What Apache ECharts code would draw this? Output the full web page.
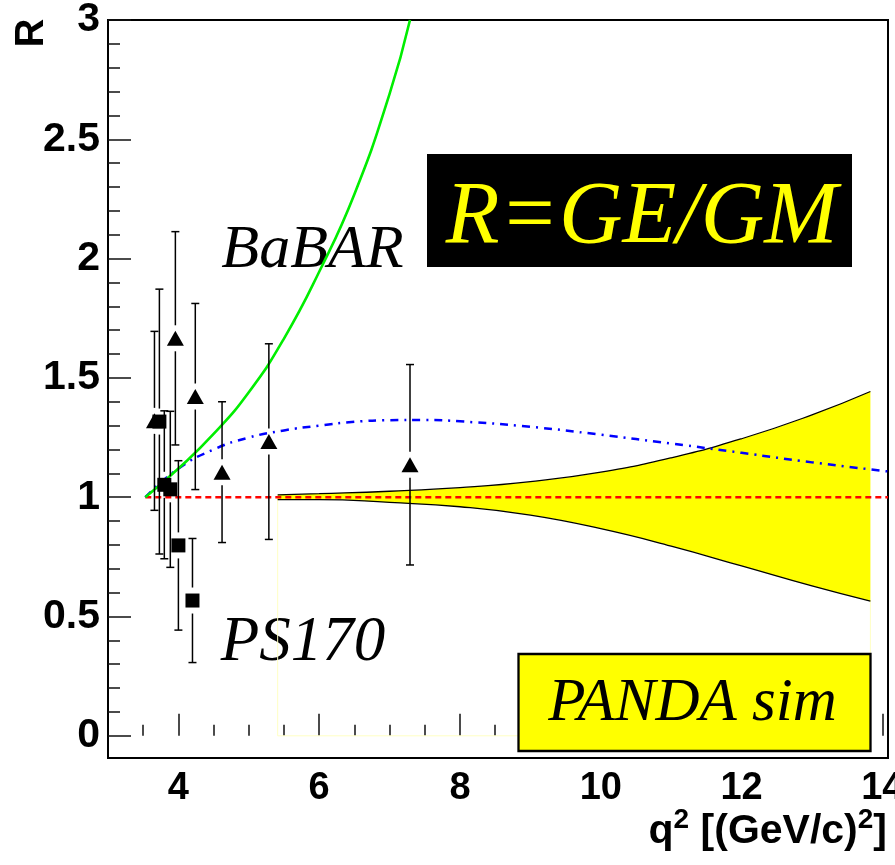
<!DOCTYPE html>
<html>
<head>
<meta charset="utf-8">
<script src="https://cdn.jsdelivr.net/npm/echarts@6/dist/echarts.min.js"></script>
<style>
  html, body { margin: 0; padding: 0; background: #ffffff; }
  #main { width: 895px; height: 865px; }
</style>
</head>
<body>
<div id="main"></div>
<script>
// PS170 measurements (squares): q^2, R and symmetric error
const ps170X   = [3.73, 3.80, 3.885, 4.00, 4.20];
const ps170R   = [1.317, 1.052, 1.033, 0.798, 0.567];
const ps170Err = [0.555, 0.31, 0.327, 0.355, 0.26];

// BaBAR measurements (triangles)
const babarX   = [3.66, 3.957, 4.24, 4.62, 5.285, 7.29];
const babarR   = [1.32, 1.666, 1.422, 1.105, 1.233, 1.136];
const babarErr = [0.375, 0.447, 0.39, 0.295, 0.41, 0.42];

// BaBAR fit (solid green)
const babarFitX = [3.53, 4.0, 4.5, 5.0, 5.5, 6.0, 6.5, 7.0, 7.29];
const babarFitY = [1.0, 1.12, 1.265, 1.44, 1.665, 1.945, 2.27, 2.69, 3.0];

// Model curve (blue dash-dot)
const modelX = [3.53, 4.0, 4.5, 5.0, 5.5, 6.0, 6.5, 7.0, 7.5, 8.0, 9.0, 10.0, 11.0, 12.0, 13.0, 14.08];
const modelY = [1.0, 1.12, 1.2, 1.25, 1.28, 1.30, 1.316, 1.323, 1.324, 1.318, 1.295, 1.262, 1.225, 1.186, 1.146, 1.108];

// R = 1 reference (red dashed)
const unityX = [3.53, 14.08];
const unityY = [1.0, 1.0];

// PANDA simulated precision band, filled around R = 1
const bandX    = [5.41, 6.0, 7.0, 8.0, 9.0, 10.0, 11.0, 12.0, 13.0, 13.83];
const bandHigh = [1.01, 1.015, 1.025, 1.04, 1.065, 1.105, 1.165, 1.245, 1.345, 1.443];
const bandLow  = [0.99, 0.99, 0.978, 0.96, 0.925, 0.868, 0.795, 0.712, 0.628, 0.564];
const bandMidY = [1.0, 1.0];

// faint outline of the band histogram frame
const frameX = [5.41, 5.41, 13.83, 13.83];
const frameY = [1.0, 0.0, 0.0, 0.564];

// axes
const X_MIN = 3, X_MAX = 14.08, Y_MIN = -0.093, Y_MAX = 3;
const xMajor = [4, 6, 8, 10, 12, 14];
const xMinor = [3.5, 4.5, 5, 5.5, 6.5, 7, 7.5, 8.5, 9, 9.5, 10.5, 11, 11.5, 12.5, 13, 13.5];
const yMajor = [0, 0.5, 1, 1.5, 2, 2.5, 3];
const yMinor = [];
for (let k = 1; k < 30; k++) { if (k % 5 !== 0) yMinor.push(+(k / 10).toFixed(1)); }

const pairs = (xs, ys) => xs.map((x, i) => [x, ys[i]]);
const errRows = (xs, ys, es) => xs.map((x, i) => [x, ys[i], ys[i] - es[i], ys[i] + es[i]]);

function errorBar(params, api) {
  const x = api.value(0), y = api.value(1), lo = api.value(2), hi = api.value(3);
  const pc = api.coord([x, y]);
  const pl = api.coord([x, lo]);
  const ph = api.coord([x, hi]);
  const gap = 13, cap = 4;
  const style = { stroke: '#000', lineWidth: 1.5 };
  return {
    type: 'group',
    children: [
      { type: 'line', shape: { x1: ph[0], y1: ph[1], x2: ph[0], y2: pc[1] - gap }, style },
      { type: 'line', shape: { x1: pl[0], y1: pc[1] + gap, x2: pl[0], y2: pl[1] }, style },
      { type: 'line', shape: { x1: ph[0] - cap, y1: ph[1], x2: ph[0] + cap, y2: ph[1] }, style },
      { type: 'line', shape: { x1: pl[0] - cap, y1: pl[1], x2: pl[0] + cap, y2: pl[1] }, style }
    ]
  };
}

const axisFont = 'Liberation Sans, Arial, Helvetica, sans-serif';
const serif = 'Liberation Serif, Times New Roman, serif';

const chart = echarts.init(document.getElementById('main'), null, { renderer: 'canvas' });

chart.setOption({
  animation: false,
  backgroundColor: '#ffffff',
  grid: {
    left: 108, right: 7, top: 20, bottom: 107,
    show: true, borderColor: '#000', borderWidth: 2, backgroundColor: 'transparent',
    containLabel: false, outerBoundsMode: 'none'
  },
  xAxis: [
    {
      type: 'value', min: X_MIN, max: X_MAX,
      axisLine: { show: false },
      splitLine: { show: false },
      axisTick: { show: true, inside: true, length: 22, customValues: xMajor, lineStyle: { color: '#111', width: 1.5 } },
      axisLabel: { show: true, customValues: xMajor, margin: 12, color: '#000', fontFamily: axisFont, fontWeight: 'bold', fontSize: 38 }
    },
    {
      type: 'value', min: X_MIN, max: X_MAX, position: 'bottom',
      axisLine: { show: false },
      splitLine: { show: false },
      axisTick: { show: true, inside: true, length: 11, customValues: xMinor, lineStyle: { color: '#111', width: 1.5 } },
      axisLabel: { show: false }
    }
  ],
  yAxis: [
    {
      type: 'value', min: Y_MIN, max: Y_MAX,
      axisLine: { show: false },
      splitLine: { show: false },
      axisTick: { show: true, inside: true, length: 23, customValues: yMajor, lineStyle: { color: '#111', width: 1.5 } },
      axisLabel: { show: true, customValues: yMajor, margin: 8, color: '#000', fontFamily: axisFont, fontWeight: 'bold', fontSize: 41 }
    },
    {
      type: 'value', min: Y_MIN, max: Y_MAX, position: 'left',
      axisLine: { show: false },
      splitLine: { show: false },
      axisTick: { show: true, inside: true, length: 12, customValues: yMinor, lineStyle: { color: '#111', width: 1.5 } },
      axisLabel: { show: false }
    }
  ],
  series: [
    {
      name: 'band frame', type: 'line', data: pairs(frameX, frameY),
      symbol: 'none', lineStyle: { color: '#ffffc4', width: 1 }, z: 1
    },
    {
      name: 'band upper', type: 'line', smooth: 0.5,
      data: pairs(bandX, bandHigh),
      symbol: 'none', lineStyle: { color: '#000', width: 1.3 },
      areaStyle: { color: '#ffff00', opacity: 1, origin: 1 }, z: 2
    },
    {
      name: 'band lower', type: 'line', smooth: 0.5,
      data: pairs(bandX, bandLow),
      symbol: 'none', lineStyle: { color: '#000', width: 1.3 },
      areaStyle: { color: '#ffff00', opacity: 1, origin: 1 }, z: 2
    },
    {
      name: 'band seam', type: 'line',
      data: pairs([bandX[0], bandX[bandX.length - 1]], bandMidY),
      symbol: 'none', lineStyle: { color: '#ffff00', width: 2 }, z: 2
    },
    {
      name: 'R = 1', type: 'line', data: pairs(unityX, unityY),
      symbol: 'none', lineStyle: { color: '#ff0000', width: 2.5, type: [6, 4] }, z: 3
    },
    {
      name: 'model', type: 'line', smooth: 0.5, data: pairs(modelX, modelY),
      symbol: 'none', lineStyle: { color: '#0000ff', width: 2.5, type: [8, 6, 2, 6] }, z: 3
    },
    {
      name: 'BaBAR fit', type: 'line', smooth: 0.5, data: pairs(babarFitX, babarFitY),
      symbol: 'none', lineStyle: { color: '#00ee00', width: 2.6 }, z: 4
    },
    {
      name: 'BaBAR errors', type: 'custom', renderItem: errorBar,
      data: errRows(babarX, babarR, babarErr), encode: { x: 0, y: [1, 2, 3] }, z: 5
    },
    {
      name: 'PS170 errors', type: 'custom', renderItem: errorBar,
      data: errRows(ps170X, ps170R, ps170Err), encode: { x: 0, y: [1, 2, 3] }, z: 5
    },
    {
      name: 'BaBAR', type: 'scatter', data: pairs(babarX, babarR),
      symbol: 'triangle', symbolSize: [17, 15], itemStyle: { color: '#000', opacity: 1 }, z: 6
    },
    {
      name: 'PS170', type: 'scatter', data: pairs(ps170X, ps170R),
      symbol: 'rect', symbolSize: 14, itemStyle: { color: '#000', opacity: 1 }, z: 6
    }
  ],
  graphic: [
    {
      type: 'text', x: 32, y: 33, rotation: Math.PI / 2, z: 10,
      style: { text: 'R', fill: '#000', font: 'bold 40px ' + axisFont, align: 'center', verticalAlign: 'middle' }
    },
    {
      type: 'text', x: 887, y: 829, z: 10,
      style: {
        text: '{m|q}{s|2}{m| [(GeV/c)}{s|2}{m|]}',
        align: 'right', verticalAlign: 'middle',
        rich: {
          m: { fontFamily: axisFont, fontWeight: 'bold', fontSize: 41, lineHeight: 46, fill: '#000', verticalAlign: 'bottom' },
          s: { fontFamily: axisFont, fontWeight: 'bold', fontSize: 28, lineHeight: 18, fill: '#000', verticalAlign: 'top' }
        }
      }
    },
    {
      type: 'text', x: 312.5, y: 250.5, z: 0,
      style: { text: 'BaBAR', fill: '#000', font: 'italic 62px ' + serif, align: 'center', verticalAlign: 'middle' }
    },
    {
      type: 'text', x: 303, y: 643, z: 0,
      style: { text: 'PS170', fill: '#000', font: 'italic 63px ' + serif, align: 'center', verticalAlign: 'middle' }
    },
    {
      type: 'rect', shape: { x: 427, y: 154, width: 425, height: 113 }, z: 10,
      style: { fill: '#000' }
    },
    {
      type: 'text', x: 641.7, y: 219, z: 11,
      style: { text: 'R=GE/GM', fill: '#ffff00', font: 'italic 88px ' + serif, align: 'center', verticalAlign: 'middle' }
    },
    {
      type: 'rect', shape: { x: 518.5, y: 654, width: 352, height: 97 }, z: 10,
      style: { fill: '#ffff00', stroke: '#000', lineWidth: 2.3 }
    },
    {
      type: 'text', x: 692.5, y: 704, z: 11,
      style: { text: 'PANDA sim', fill: '#000', font: 'italic 61px ' + serif, align: 'center', verticalAlign: 'middle' }
    }
  ]
});
</script>
</body>
</html>
